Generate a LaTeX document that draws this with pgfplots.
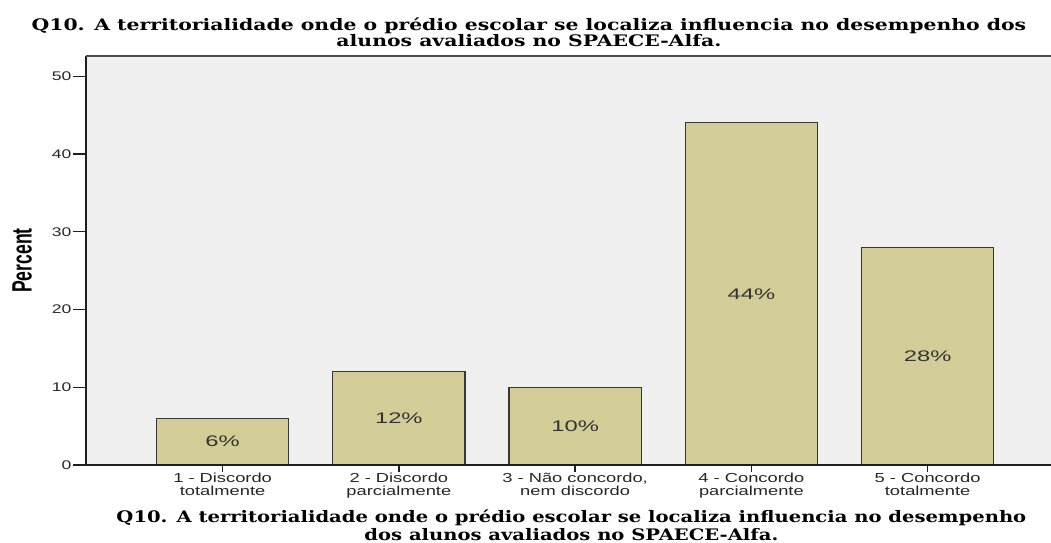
\documentclass[border=0pt]{standalone}
\usepackage{fontspec}
\usepackage{graphicx}
\usepackage{pgfplots}
\usepackage{pgfplotstable}
\pgfplotsset{compat=1.18}

\setmainfont{Liberation Sans}
\newfontfamily\ticksfont{Liberation Sans}[FakeStretch=1.4]
\newfontfamily\valfont{Liberation Sans}[FakeStretch=1.55]
\newfontfamily\titlefont{DejaVu Serif}[FakeStretch=1.285]
\newfontfamily\xtitlefont{DejaVu Serif}[FakeStretch=1.233]

\definecolor{plotbg}{RGB}{239,239,239}
\definecolor{barfill}{RGB}{210,205,150}
\definecolor{baredge}{RGB}{55,55,55}
\definecolor{axisdark}{RGB}{30,30,30}

% percentage of answers per category (0..4 = options 1..5)
\pgfplotstableread{
x y
0 6
1 12
2 10
3 44
4 28
}\answers

\pgfplotsset{/pgf/number format/assume math mode=true}

\begin{document}
\begin{tikzpicture}
% main axis: background, bars, y ticks, titles
\begin{axis}[
  name=main, at={(0,0)}, anchor=south west,
  scale only axis, width=723.75pt, height=306.75pt,
  xmin=-0.775, xmax=4.70, ymin=0, ymax=52.6,
  clip=false,
  axis background/.style={fill=plotbg},
  axis lines*=left,
  axis line style={axisdark, line width=1.3pt},
  xtick=\empty,
  ytick={0,10,20,30,40,50},
  tick align=outside,
  major tick length=9.75pt,
  ytick style={axisdark, line width=0.9pt},
  yticklabel style={font=\ticksfont\fontsize{9.4}{9.4}\selectfont, text=black!85, inner sep=1pt},
  ylabel={\scalebox{0.63}[1]{\fontsize{21}{21}\selectfont\bfseries Percent}},
  ylabel style={at={(axis description cs:-0.0663,0.5)}, anchor=center},
]
\addplot[ybar, bar width=0.75, bar shift=0pt, fill=barfill, draw=baredge, line width=0.9pt]
  table[x=x, y=y]{\answers};
\addplot[draw=none, mark=none,
  nodes near coords={\pgfmathprintnumber{\pgfplotspointmeta}\%},
  nodes near coords style={anchor=center, font=\valfont\fontsize{11.5}{11.5}\selectfont, text=black!80},
  point meta=explicit]
  table[x=x, y expr=\thisrow{y}/2, meta=y]{\answers};
\draw[black!70, line width=0.8pt] (rel axis cs:0,1) -- (rel axis cs:1,1);
\node[anchor=base, font=\titlefont\bfseries\fontsize{11.9}{12}\selectfont]
  at (axis description cs:0.459,1.0623)
  {Q10. A territorialidade onde o prédio escolar se localiza influencia no desempenho dos};
\node[anchor=base, font=\titlefont\bfseries\fontsize{11.9}{12}\selectfont]
  at (axis description cs:0.459,1.0232)
  {alunos avaliados no SPAECE-Alfa.};
\node[anchor=base, font=\xtitlefont\bfseries\fontsize{11.9}{12}\selectfont]
  at (axis description cs:0.503,-0.1418)
  {Q10. A territorialidade onde o prédio escolar se localiza influencia no desempenho};
\node[anchor=base, font=\xtitlefont\bfseries\fontsize{11.9}{12}\selectfont]
  at (axis description cs:0.503,-0.184)
  {dos alunos avaliados no SPAECE-Alfa.};
\end{axis}
% category axis: shorter x ticks and two-line labels
\begin{axis}[
  at={(0,0)}, anchor=south west,
  scale only axis, width=723.75pt, height=306.75pt,
  xmin=-0.775, xmax=4.70, ymin=0, ymax=52.6,
  axis x line*=bottom, axis y line=none,
  axis line style={axisdark, line width=1.3pt},
  ytick=\empty,
  xtick={0,1,2,3,4},
  xticklabels={{1 - Discordo\\totalmente},{2 - Discordo\\parcialmente},{3 - Não concordo,\\nem discordo},{4 - Concordo\\parcialmente},{5 - Concordo\\totalmente}},
  tick align=outside,
  major tick length=5.25pt,
  xtick style={axisdark, line width=1pt},
  xticklabel style={align=center, font=\ticksfont\fontsize{9.8}{9.6}\selectfont, text=black!85, inner sep=0.5pt},
]
\end{axis}
\pgfresetboundingbox
\path (-64.5pt,-58.5pt) rectangle (723.75pt,348.75pt);
\end{tikzpicture}
\end{document}
